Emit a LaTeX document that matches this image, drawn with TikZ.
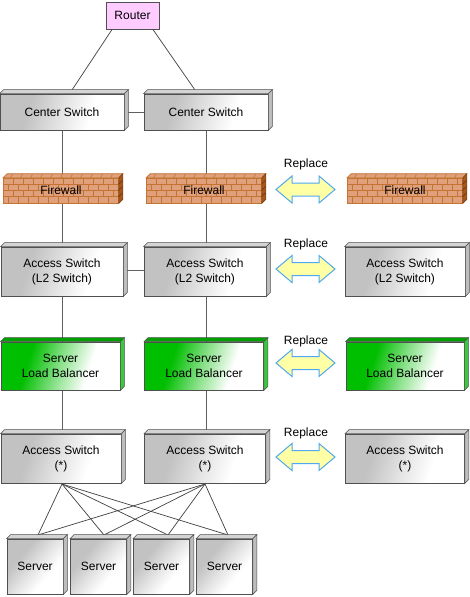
\documentclass[tikz,border=0pt]{standalone}
\usepackage{fontspec}
\setmainfont{Liberation Sans}
\usetikzlibrary{calc}
\definecolor{edgec}{HTML}{505050}
\definecolor{gface}{HTML}{C2C2C2}
\definecolor{gtop}{HTML}{D4D4D4}
\definecolor{gside}{HTML}{BDBDBD}
\definecolor{gg}{HTML}{00BE00}
\definecolor{ggtop}{HTML}{00A000}
\definecolor{ggside}{HTML}{3CC83C}
\definecolor{brick}{HTML}{E0A07C}
\definecolor{mortar}{HTML}{C27430}
\definecolor{brside}{HTML}{A8561A}
\definecolor{rpink}{HTML}{FFCCFF}
\definecolor{arrfill}{HTML}{FFFFA6}
\definecolor{arrline}{HTML}{4FA8F0}
\definecolor{lnc}{HTML}{606060}
\pgfdeclarehorizontalshading{grayfade}{100bp}{color(0bp)=(gface); color(34bp)=(gface); color(50bp)=(gface!45!white); color(64bp)=(white); color(100bp)=(white)}
\pgfdeclarehorizontalshading{greenfade}{100bp}{color(0bp)=(gg); color(34bp)=(gg); color(50bp)=(gg!45!white); color(64bp)=(white); color(100bp)=(white)}
\newcommand\fs{\fontsize{12}{15}\selectfont}
\tikzset{
  boxgray/.style={draw=edgec, line width=0.8pt, shade, shading=grayfade, shading angle=-18, inner sep=0pt, align=center, font=\fs},
  boxgreen/.style={draw=edgec, line width=0.8pt, shade, shading=greenfade, shading angle=-18, inner sep=0pt, align=center, font=\fs},
  boxsrv/.style={draw=edgec, line width=0.8pt, shade, shading=grayfade, shading angle=-40, inner sep=0pt, align=center, font=\fs},
  topgray/.style={fill=gtop, draw=edgec, line width=0.6pt},
  sidegray/.style={fill=gside, draw=edgec, line width=0.6pt},
  topsrv/.style={topgray}, sidesrv/.style={sidegray},
  topgreen/.style={fill=ggtop, draw=edgec, line width=0.6pt},
  sidegreen/.style={fill=ggside, draw=edgec, line width=0.6pt},
  fwnode/.style={fill=brick, draw=mortar, line width=0.6pt, minimum width=115pt, minimum height=25pt, inner sep=0pt},
  mort/.style={draw=mortar, line width=0.6pt},
  fwtext/.style={font=\fs, inner sep=0pt},
  router/.style={draw=edgec, line width=0.8pt, fill=rpink, minimum width=53pt, minimum height=27pt, inner sep=0pt, font=\fs},
  conn/.style={draw=lnc, line width=0.8pt},
  rconn/.style={draw=black!75, line width=0.7pt},
  reparr/.style={fill=arrfill, draw=arrline, line width=1pt, line join=miter},
  replbl/.style={font=\fs, inner sep=0pt}
}
% 3D box: name, cx, cy, w, h, kind, text
\newcommand\tdbox[7]{%
  \node[box#6, minimum width=#4pt, minimum height=#5pt] (#1) at (#2,#3) {#7};
  \path[top#6] (#1.north west) -- ++(4,-4) -- ($(#1.north east)+(4,-4)$) -- (#1.north east) -- cycle;
  \path[side#6] (#1.north east) -- ++(4,-4) -- ($(#1.south east)+(4,-4)$) -- (#1.south east) -- cycle;
}
% firewall: name, cx, cy
\newcommand\fwall[3]{%
  \node[fwnode] (#1) at (#2,#3) {};
  \pgfmathsetmacro\fl{#2-57.5}%
  \pgfmathsetmacro\ft{#3-12.5}%
  \begin{scope}
    \clip (#1.south west) rectangle (#1.north east);
    \foreach \r in {0,1,2,3} {
      \draw[mort] (\fl,\ft+\r*6.25) -- ++(115,0);
      \pgfmathsetmacro\off{mod(\r,2)*5}
      \foreach \k in {0,...,12} {\draw[mort] (\fl+\off+\k*10,\ft+\r*6.25) -- ++(0,6.25);}
    }
  \end{scope}
  \path[fill=brick, draw=mortar, line width=0.6pt] (#1.north west) -- ++(4,-4) -- ($(#1.north east)+(4,-4)$) -- (#1.north east) -- cycle;
  \foreach \k in {0,...,11} {\draw[mort] (\fl+7+\k*10,\ft) -- ++(2,-4);}
  \path[fill=brside, draw=brside!70!black, line width=0.6pt] (#1.north east) -- ++(4,-4) -- ($(#1.south east)+(4,-4)$) -- (#1.south east) -- cycle;
  \foreach \r in {1,2,3} {\draw[draw=brside!60!black, line width=0.5pt] (\fl+115,\ft+\r*6.25) -- ++(4,-4);}
  \node[fwtext] (#1t) at (#2,#3) {Firewall};
}
% replace arrow: cx, cy
\newcommand\reparrow[2]{%
  \path[reparr] (#1-29.5,#2) -- (#1-13.5,#2-13.5) -- (#1-13.5,#2-6.5) -- (#1+13.5,#2-6.5) -- (#1+13.5,#2-13.5) -- (#1+29.5,#2) -- (#1+13.5,#2+13.5) -- (#1+13.5,#2+6.5) -- (#1-13.5,#2+6.5) -- (#1-13.5,#2+13.5) -- cycle;
}
\begin{document}
\begin{tikzpicture}[x=1pt,y=-1pt]
\fill[white] (0,0) rectangle (470,597);
\useasboundingbox (0,0) rectangle (470,597);

% coordinates for connector ends
\coordinate (c1t) at (72,90);
\coordinate (c2t) at (195,90);
\coordinate (l1) at (62,112);
\coordinate (l2) at (62,458);
\coordinate (m1) at (206,112);
\coordinate (m2) at (206,458);

% router
\node[router] (r) at (132.5,15.5) {Router};
\draw[rconn] ([xshift=6.5pt]r.south west) -- (c1t);
\draw[rconn] ([xshift=-6.5pt]r.south east) -- (c2t);

% vertical and horizontal connectors (drawn behind boxes)
\draw[conn] (l1) -- (l2);
\draw[conn] (m1) -- (m2);
\draw[conn] (l1) -- (m1);
\draw[conn] (62,270) -- (206,270);

% server placement coordinates
\coordinate (ax1b) at (62,484);
\coordinate (ax2b) at (205,484);
\coordinate (t1) at (38,535);
\coordinate (t2) at (104,535);
\coordinate (t3) at (168,535);
\coordinate (t4) at (228,535);
\foreach \a in {ax1b,ax2b} {
  \foreach \t in {t1,t2,t3,t4} {\draw[rconn] (\a) -- (\t);}
}

% center switches
\tdbox{cs1}{62}{112}{124}{36}{gray}{Center Switch}
\tdbox{cs2}{206}{112}{124}{36}{gray}{Center Switch}

% firewalls
\fwall{fw1}{61}{190.5}
\fwall{fw2}{204}{190.5}
\fwall{fw3}{405}{190.5}

% access switches (L2)
\tdbox{as1}{62}{271.5}{122}{49}{gray}{Access Switch\\(L2 Switch)}
\tdbox{as2}{205}{271.5}{122}{49}{gray}{Access Switch\\(L2 Switch)}
\tdbox{as3}{405}{271.5}{120}{49}{gray}{Access Switch\\(L2 Switch)}

% server load balancers
\tdbox{slb1}{60.5}{366}{119}{48}{green}{Server\\Load Balancer}
\tdbox{slb2}{204}{366}{119}{48}{green}{Server\\Load Balancer}
\tdbox{slb3}{405}{366}{118}{48}{green}{Server\\Load Balancer}

% access switches (*)
\tdbox{ax1}{61}{458.5}{120}{49}{gray}{Access Switch\\(*)}
\tdbox{ax2}{205}{458.5}{121}{49}{gray}{Access Switch\\(*)}
\tdbox{ax3}{405}{458.5}{119}{49}{gray}{Access Switch\\(*)}

% servers
\tdbox{s1}{35}{566.5}{56}{55}{srv}{Server}
\tdbox{s2}{98.5}{566.5}{56}{55}{srv}{Server}
\tdbox{s3}{161.5}{566.5}{56}{55}{srv}{Server}
\tdbox{s4}{224.5}{566.5}{56}{55}{srv}{Server}

% replace arrows and labels
\node[replbl] (rep1) at (306,164) {Replace};
\node[replbl] (rep2) at (306,244) {Replace};
\node[replbl] (rep3) at (306,341) {Replace};
\node[replbl] (rep4) at (306,433) {Replace};
\reparrow{305.5}{189.5}
\reparrow{305.5}{269}
\reparrow{305.5}{363}
\reparrow{305.5}{457}
\end{tikzpicture}
\end{document}
